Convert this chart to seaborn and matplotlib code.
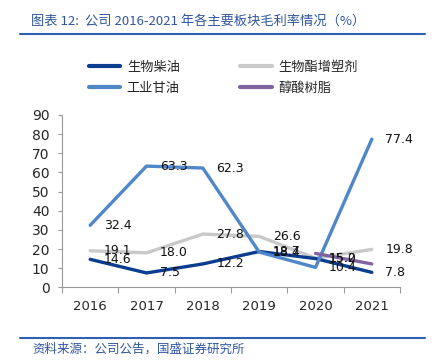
#各主要板块毛利率 折线图
import numpy as np
import pandas as pd
import seaborn as sns
import matplotlib.pyplot as plt
from matplotlib.lines import Line2D

# 数据
years = ['2016', '2017', '2018', '2019', '2020', '2021']
biodiesel = [14.6, 7.5, 12.2, 18.7, 15.0, 7.8]
plasticizer = [19.1, 18.0, 27.8, 26.6, 15.2, 19.8]
glycerin = [32.4, 63.3, 62.3, 18.4, 10.4, 77.4]
alkyd = [np.nan, np.nan, np.nan, np.nan, 17.7, 12.2]

names = ['生物柴油', '生物酯增塑剂', '工业甘油', '醇酸树脂']
series = [biodiesel, plasticizer, glycerin, alkyd]
colors = ['#0a3d8f', '#c9c9c9', '#4f87c8', '#8064a2']
show_labels = [True, True, True, False]

sns.set_style('white')
plt.rcParams['font.family'] = ['DejaVu Sans', 'Noto Sans CJK SC']
cjk = ['Noto Sans CJK SC', 'DejaVu Sans']

rows = []
for n, vals in zip(names, series):
    for i, v in enumerate(vals):
        rows.append({'pos': i, 'val': v, 'name': n})
df = pd.DataFrame(rows).dropna()

fig = plt.figure(figsize=(4.38, 3.6), dpi=100)
ax = fig.add_axes([62 / 438, 1 - 287.3 / 360, 338 / 438, 172.3 / 360])

# 先画灰色，再画蓝色和紫色
order = [1, 0, 2, 3]
for k in order:
    sub = df[df['name'] == names[k]]
    sns.lineplot(data=sub, x='pos', y='val', color=colors[k], lw=2.4,
                 errorbar=None, ax=ax, legend=False)

for k, vals in enumerate(series):
    if not show_labels[k]:
        continue
    for i, v in enumerate(vals):
        if np.isnan(v):
            continue
        ax.text(i + 0.24, v, '{:.1f}'.format(v), ha='left', va='center',
                fontsize=9, color='#111111')

ax.set_xlim(-0.5, 5.5)
ax.set_ylim(0, 90)
ax.set_yticks(range(0, 91, 10))
ax.set_xticks(np.arange(-0.5, 5.6, 1))
ax.set_xticklabels([])
ax.set_xticks(range(6), minor=True)
ax.set_xticklabels(years, minor=True)
ax.tick_params(axis='x', which='major', direction='out', length=4, color='#999999',
               bottom=True)
ax.tick_params(axis='x', which='minor', length=0, labelsize=9.5, pad=9)
ax.tick_params(axis='y', direction='out', length=3, color='#999999', left=True,
               labelsize=10, pad=6)
ax.set_xlabel('')
ax.set_ylabel('')

ax.spines['right'].set_visible(False)
ax.spines['top'].set_visible(False)
ax.spines['left'].set_color('#999999')
ax.spines['bottom'].set_color('#999999')

# 图例
handles = [Line2D([], [], color=colors[k], lw=3) for k in [0, 2, 1, 3]]
labels = [names[k] for k in [0, 2, 1, 3]]
fig.legend(handles, labels, loc='center', bbox_to_anchor=(0.51, 1 - 78 / 360),
           ncol=2, frameon=False, handlelength=2.4, handletextpad=0.5,
           columnspacing=4.6, labelspacing=0.62, prop={'family': cjk, 'size': 9.5})

# 标题和来源
blue = '#2f56a0'
fig.text(31 / 438, 1 - 21 / 360, '图表 12:  公司 2016-2021 年各主要板块毛利率情况（%）',
         ha='left', va='center', fontsize=9.5, color=blue, style='italic',
         family=cjk)
fig.add_artist(Line2D([20 / 438, 425 / 438], [1 - 33.7 / 360, 1 - 33.7 / 360],
                      color='#2f5fb0', lw=1.5))
fig.add_artist(Line2D([20 / 438, 425 / 438], [1 - 338 / 360, 1 - 338 / 360],
                      color='#2f5fb0', lw=1.5))
fig.text(32 / 438, 1 - 349 / 360, '资料来源：公司公告，国盛证券研究所',
         ha='left', va='center', fontsize=9, color=blue, style='italic',
         family=cjk)

fig.savefig('out.png', dpi=100)
